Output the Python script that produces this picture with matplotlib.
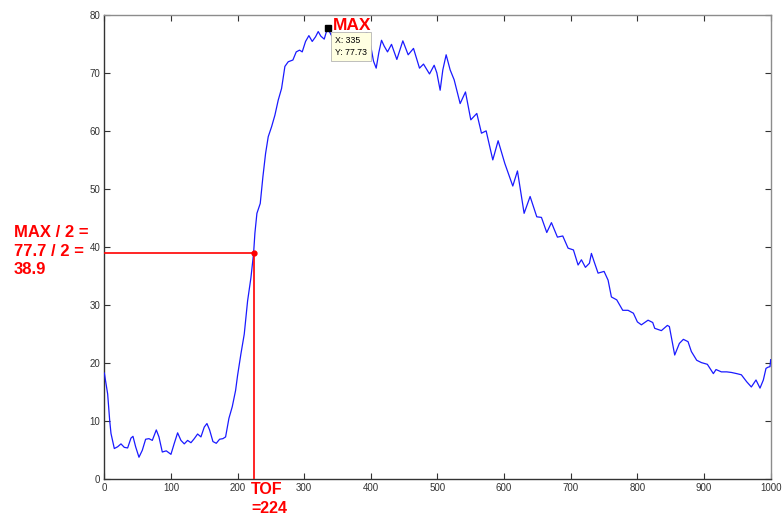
import matplotlib
matplotlib.use("Agg")
import matplotlib.pyplot as plt

# signal (sample index vs. amplitude)
x = [0, 5, 8, 10, 15, 20, 25, 30, 35, 40, 43, 47, 52, 57, 62, 67, 72, 78, 82, 87,
     93, 100, 105, 110, 115, 120, 125, 130, 135, 140, 145, 150, 154, 158, 163, 168,
     173, 178, 182, 187, 192, 197, 200, 205, 210, 215, 220, 224, 226, 229, 234, 238,
     242, 246, 251, 256, 261, 266, 268, 271, 276, 283, 288, 293, 297, 302, 307, 312,
     317, 321, 325, 330, 335, 340, 348, 356, 364, 372, 380, 388, 394, 400, 404, 408,
     412, 416, 420, 425, 431, 439, 448, 456, 464, 473, 479, 488, 495, 499, 504, 508,
     513, 519, 525, 534, 542, 550, 559, 566, 573, 583, 591, 601, 613, 620, 630, 639,
     649, 656, 664, 671, 680, 688, 696, 704, 711, 716, 722, 728, 731, 735, 741, 750,
     756, 761, 769, 778, 786, 794, 800, 806, 816, 823, 826, 836, 845, 848, 856, 863,
     869, 876, 881, 889, 896, 905, 914, 918, 926, 934, 941, 949, 956, 964, 971, 978,
     984, 989, 993, 996, 999, 1000]
y = [18.3, 14.7, 10.2, 7.9, 5.3, 5.6, 6.1, 5.5, 5.4, 7.1, 7.4, 5.6, 3.8, 5.0, 6.9, 7.0,
     6.7, 8.5, 7.3, 4.7, 4.9, 4.3, 6.2, 8.0, 6.7, 6.1, 6.7, 6.3, 7.0, 7.8, 7.3, 9.0,
     9.6, 8.5, 6.5, 6.2, 6.9, 7.0, 7.3, 10.5, 12.5, 15.3, 17.9, 21.6, 25.0, 30.7, 34.7,
     38.9, 42.4, 45.8, 47.5, 52.1, 56.1, 59.0, 60.7, 62.7, 65.3, 67.3, 68.8, 71.1, 71.9,
     72.2, 73.6, 73.9, 73.6, 75.4, 76.4, 75.4, 76.2, 77.1, 76.3, 75.8, 77.73, 76.6, 75.3,
     76.4, 75.2, 76.0, 75.0, 76.5, 76.9, 74.5, 72.0, 70.8, 73.5, 75.6, 74.6, 73.6, 74.9,
     72.3, 75.5, 73.1, 74.2, 70.8, 71.5, 69.8, 71.3, 70.0, 67.0, 70.5, 73.1, 70.5, 68.8,
     64.7, 66.7, 61.9, 63.0, 59.6, 60.0, 55.0, 58.3, 54.4, 50.5, 53.1, 45.8, 48.7, 45.2,
     45.1, 42.5, 44.2, 41.7, 41.9, 39.8, 39.5, 36.9, 37.8, 36.5, 37.2, 38.9, 37.5, 35.5,
     35.8, 34.3, 31.4, 30.9, 29.1, 29.1, 28.6, 27.1, 26.6, 27.4, 27.0, 26.0, 25.6, 26.5,
     26.3, 21.4, 23.4, 24.1, 23.7, 22.0, 20.5, 20.1, 19.8, 18.2, 18.9, 18.5, 18.5, 18.4,
     18.2, 18.0, 16.8, 15.9, 17.1, 15.7, 17.1, 19.1, 19.3, 19.4, 20.6]

max_x, max_y = 335, 77.73
half_y = 38.9
tof = 224

plt.rcParams['font.family'] = ['Liberation Sans', 'DejaVu Sans']

fig = plt.figure(figsize=(7.82, 5.22), dpi=100)
ax = fig.add_axes([0.1334, 0.0818, 0.8521, 0.890])

ax.plot(x, y, color='#1a1aff', lw=0.9, zorder=3)

# half-max guide lines
ax.plot([0, tof], [half_y, half_y], color='red', lw=1.2, zorder=4)
ax.plot([tof, tof], [half_y, 0], color='red', lw=1.2, zorder=4)
ax.plot([tof], [half_y], 'o', color='red', ms=3.5, zorder=5)

# data cursor
ax.plot([max_x], [max_y], 's', color='black', ms=4.5, zorder=6)
ax.text(346, 76.4, 'X: 335\nY: 77.73', fontsize=6.3, va='top', ha='left', zorder=7,
        linespacing=1.55,
        bbox=dict(boxstyle='square,pad=0.45', fc='#ffffe1', ec='#b4b4b4', lw=0.6))
ax.text(343, 77.37, 'MAX', color='red', fontsize=12.5, fontweight='bold',
        va='baseline', ha='left', zorder=7, clip_on=False)

fig.text(14 / 782, 1 - 225 / 522, 'MAX / 2 =\n77.7 / 2 =\n38.9', color='red',
         fontsize=12, fontweight='bold', va='top', ha='left', linespacing=1.3)
fig.text(251 / 782, 1 - 482 / 522, 'TOF\n=224', color='red',
         fontsize=11.5, fontweight='bold', va='top', ha='left', linespacing=1.3)

ax.set_xlim(0, 1000)
ax.set_ylim(0, 80)
ax.set_xticks(range(0, 1001, 100))
ax.set_yticks(range(0, 81, 10))
ax.tick_params(direction='in', length=4, width=0.8, top=True, right=True,
               labelsize=7, labelcolor='#333333', color='#333333', pad=3)
for s in ['left', 'bottom']:
    ax.spines[s].set_color('#333333')
for s in ['top', 'right']:
    ax.spines[s].set_color('#8c8c8c')
for s in ax.spines.values():
    s.set_linewidth(1.0)

fig.savefig('out.png', dpi=100)
